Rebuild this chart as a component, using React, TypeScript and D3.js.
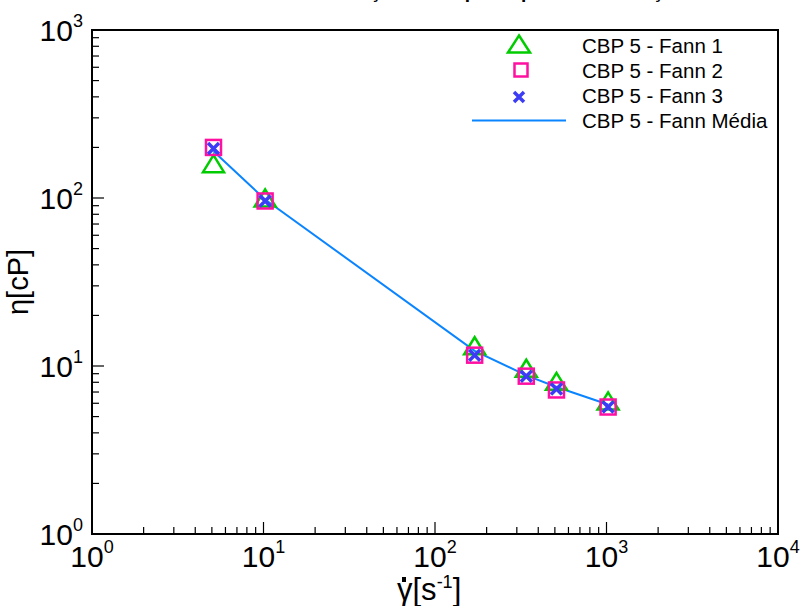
import React from 'react';
import * as d3 from 'd3';

// shear rate [1/s] for the six Fann readings
const shearRates = [5.11, 10.22, 170.3, 340.6, 510.9, 1021.8];
const fann1 = [160, 100, 13.2, 9.7, 8.1, 6.2];
const fann2 = [200, 96, 11.6, 8.7, 7.2, 5.7];
const fann3 = [197, 96, 11.6, 8.7, 7.3, 5.7];
const fannMean = [190, 98, 12.3, 8.8, 7.5, 5.9];

const xDecades = [0, 1, 2, 3, 4];
const yDecades = [0, 1, 2, 3];
const legendLabels = ['CBP 5 - Fann 1', 'CBP 5 - Fann 2', 'CBP 5 - Fann 3', 'CBP 5 - Fann Média'];
const title = 'Resultados da viscosidade em função da resposta para a formulação do cimento';

const W = 803;
const H = 606;
const left = 92, right = 778, top = 30, bottom = 534;

const green = '#00cc00';
const pink = '#ff10a0';
const blue = '#3c3cf5';
const lineBlue = '#0a84ff';
const font = '"Liberation Sans", Arial, Helvetica, sans-serif';

function Triangle({ x, y, w = 21, h = 17 }: { x: number; y: number; w?: number; h?: number }) {
  const p = `M${x},${y - h / 2}L${x + w / 2},${y + h / 2}L${x - w / 2},${y + h / 2}Z`;
  return <path d={p} fill="none" stroke={green} strokeWidth={2.5} strokeLinejoin="miter" />;
}

function Square({ x, y, s = 15 }: { x: number; y: number; s?: number }) {
  return <rect x={x - s / 2} y={y - s / 2} width={s} height={s} fill="none" stroke={pink} strokeWidth={2.5} />;
}

function Cross({ x, y, s = 11 }: { x: number; y: number; s?: number }) {
  const h = s / 2;
  return (
    <path d={`M${x - h},${y - h}L${x + h},${y + h}M${x - h},${y + h}L${x + h},${y - h}`}
      stroke={blue} strokeWidth={3.5} fill="none" />
  );
}

export default function App() {
  const x = d3.scaleLog().domain([1, 1e4]).range([left, right]);
  const y = d3.scaleLog().domain([1, 1e3]).range([bottom, top]);

  const xTicks = x.ticks();
  const yTicks = y.ticks();
  const isMajor = (v: number) => Math.abs(Math.log10(v) - Math.round(Math.log10(v))) < 1e-9;

  const meanLine = d3.line<number>()
    .x((_, i) => x(shearRates[i]))
    .y((d) => y(d));

  return (
    <svg width={W} height={H} style={{ position: 'absolute', left: 0, top: 0, background: '#fff' }}
      fontFamily={font}>
      <rect width={W} height={H} fill="#fff" />
      {/* title sits mostly above the visible area, as in the source */}
      <text x={425} y={-2} textAnchor="middle" fontSize={20} fontWeight="bold" textLength={735}
        lengthAdjust="spacingAndGlyphs">{title}</text>

      {/* ticks */}
      {xTicks.map((t, i) => {
        const len = isMajor(t) ? 12 : 7;
        return <line key={'xt' + i} x1={x(t)} x2={x(t)} y1={bottom} y2={bottom - len} stroke="#000" strokeWidth={1.2} />;
      })}
      {yTicks.map((t, i) => {
        const len = isMajor(t) ? 12 : 7;
        return <line key={'yt' + i} x1={left} x2={left + len} y1={y(t)} y2={y(t)} stroke="#000" strokeWidth={1.2} />;
      })}

      {/* frame */}
      <rect x={left} y={top} width={right - left} height={bottom - top} fill="none" stroke="#000" strokeWidth={2} />

      {/* tick labels */}
      {xDecades.map((d) => (
        <text key={'xl' + d} x={x(Math.pow(10, d))} y={567} textAnchor="middle" fontSize={30}>
          10<tspan fontSize={18} dy={-14}>{d}</tspan>
        </text>
      ))}
      {yDecades.map((d) => (
        <text key={'yl' + d} x={83} y={y(Math.pow(10, d)) + 11} textAnchor="end" fontSize={30}>
          10<tspan fontSize={18} dy={-14}>{d}</tspan>
        </text>
      ))}

      {/* axis titles */}
      <text transform={`translate(28,${(top + bottom) / 2}) rotate(-90)`} textAnchor="middle" fontSize={29}>
        η[cP]
      </text>
      <text x={397} y={600} fontSize={31}>
        γ[s<tspan fontSize={18} dy={-12}>-1</tspan><tspan dy={12}>]</tspan>
      </text>
      <rect x={402} y={577} width={4} height={5} fill="#000" />

      {/* data */}
      <path d={meanLine(fannMean) || ''} fill="none" stroke={lineBlue} strokeWidth={2} />
      {fann1.map((v, i) => <Triangle key={'a' + i} x={x(shearRates[i])} y={y(v)} />)}
      {fann2.map((v, i) => <Square key={'b' + i} x={x(shearRates[i])} y={y(v)} />)}
      {fann3.map((v, i) => <Cross key={'c' + i} x={x(shearRates[i])} y={y(v)} />)}

      {/* legend */}
      <g fontSize={20.5}>
        {legendLabels.map((l, i) => (
          <text key={l} x={582} y={45.5 + i * 25 + 7.5}>{l}</text>
        ))}
        <Triangle x={519} y={44} w={22} h={17} />
        <Square x={521} y={70} s={13} />
        <Cross x={519} y={97} s={10} />
        <line x1={472} x2={566} y1={120.5} y2={120.5} stroke={lineBlue} strokeWidth={2} />
      </g>
    </svg>
  );
}
